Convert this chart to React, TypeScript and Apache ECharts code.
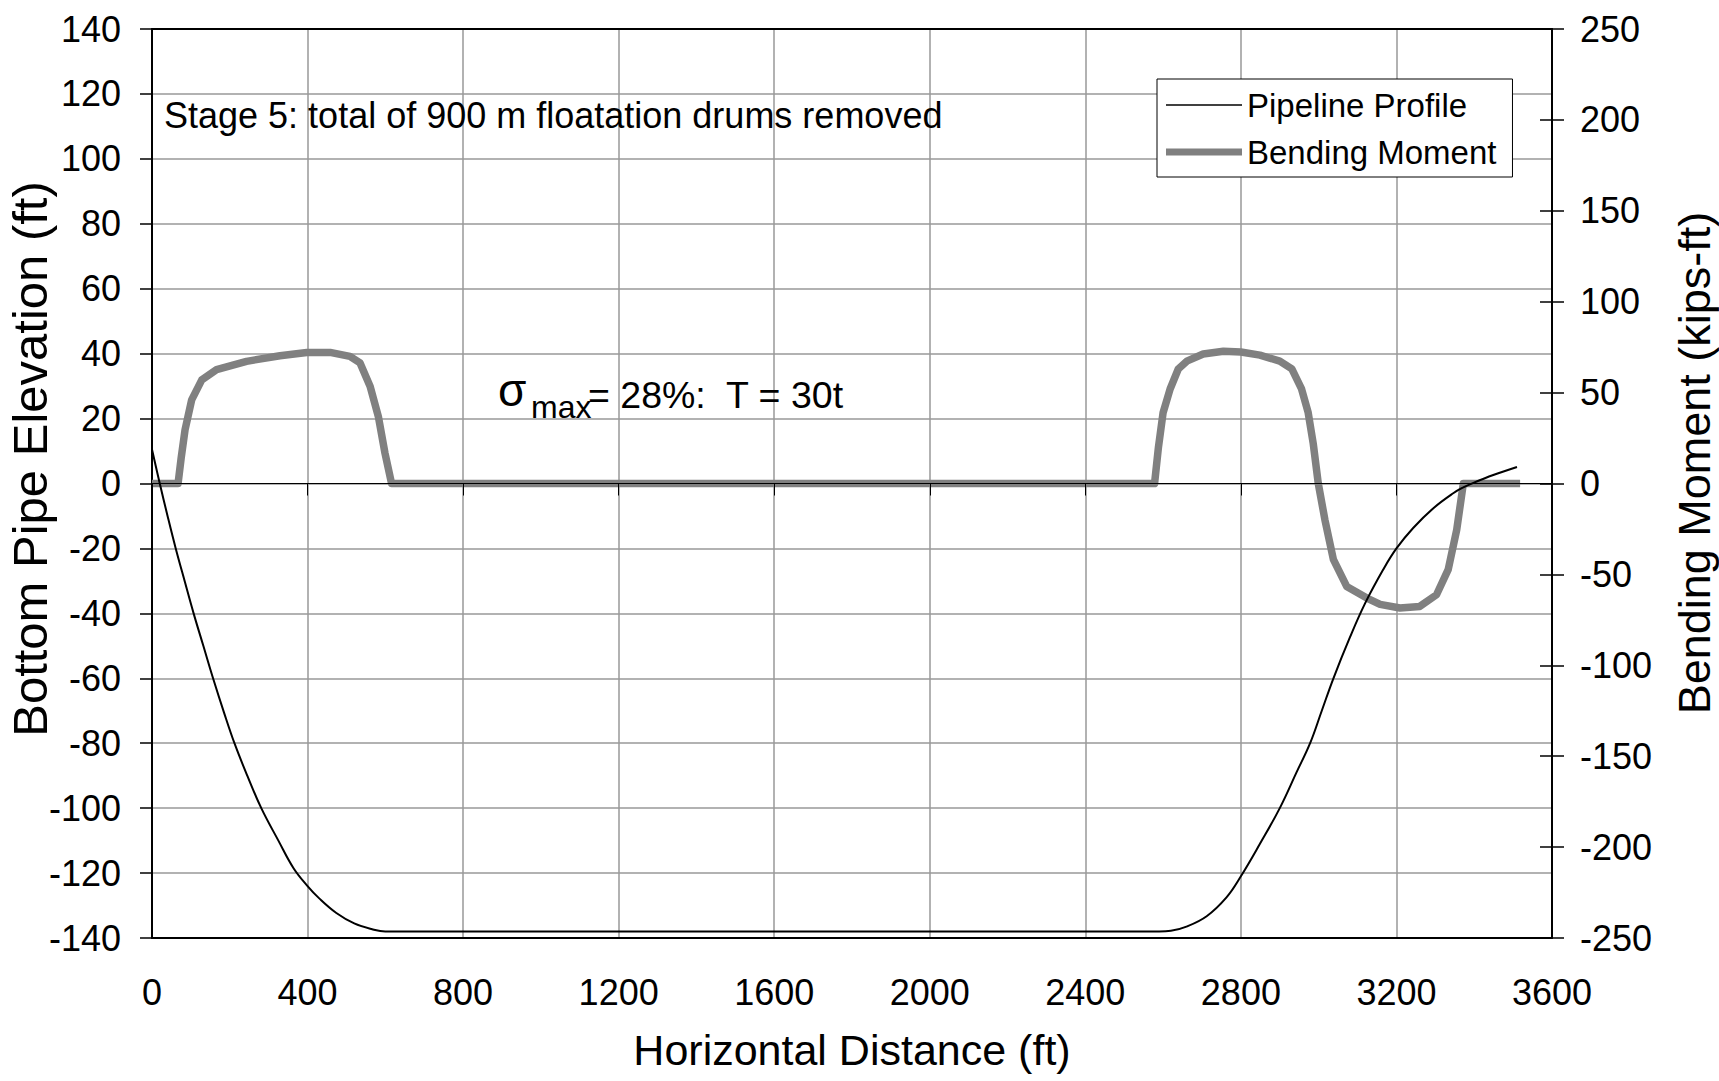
import React, { useEffect, useRef } from "react";
import * as echarts from "echarts";

const FONT = "'Liberation Sans', Arial, sans-serif";

const xTicks = { min: 0, max: 3600, interval: 400 };
const elevTicks = { min: -140, max: 140, interval: 20 };
const momentTicks = { min: -250, max: 250, interval: 50 };

const profileX = [0, 20, 40, 61, 85, 107, 132, 157, 185, 212, 245, 281, 325, 364, 400, 430, 474, 520, 566, 600, 1000, 1600, 2200, 2590, 2620, 2660, 2712, 2763, 2800, 2849, 2900, 2943, 2978, 3008, 3038, 3080, 3119, 3166, 3200, 3243, 3295, 3346, 3372, 3398, 3449, 3510];
const profileY = [10.5, 0, -10, -20, -30.5, -40, -50, -60, -70.5, -80, -90, -100, -110, -118.5, -124, -127.8, -132.3, -135.5, -137.3, -138, -138, -138, -138, -138, -137.8, -136.5, -133.3, -127.5, -121, -111, -100, -89, -80, -70, -60, -47.5, -37, -26.5, -20, -13.7, -7.6, -3, -1.2, 0.2, 2.6, 5.1];

const momentX = [0, 67, 75, 85, 102, 128, 166, 243, 329, 398, 458, 509, 535, 561, 582, 599, 616, 2578, 2588, 2600, 2618, 2639, 2661, 2703, 2755, 2800, 2849, 2900, 2931, 2956, 2973, 2986, 2999, 3016, 3038, 3072, 3124, 3158, 3209, 3260, 3303, 3333, 3355, 3372, 3518];
const momentY = [0, 0, 14, 29.6, 46, 57, 62.6, 67.2, 70.3, 72.1, 72.1, 69.9, 66.3, 53.4, 36.9, 16.8, 0, 0, 20, 39, 52, 63, 67.3, 71.2, 72.7, 72.3, 70.6, 67.3, 63, 52, 39, 22, 0, -19.9, -41.9, -56.6, -63, -66.5, -68.5, -67.6, -61.2, -47.4, -25.4, 0, 0];

const profileName = "Pipeline Profile";
const momentName = "Bending Moment";

const xTitle = "Horizontal Distance (ft)";
const leftTitle = "Bottom Pipe Elevation (ft)";
const rightTitle = "Bending Moment (kips-ft)";
const stageText = "Stage 5: total of 900 m floatation drums removed";
const sigmaMain = "σ";
const sigmaSub = "max";
const sigmaRest = "= 28%:  T = 30t";

export default function App() {
  const ref = useRef<HTMLDivElement>(null);

  useEffect(() => {
    if (!ref.current) return;
    const chart = echarts.init(ref.current, undefined, { renderer: "svg" });

    const profileData = profileX.map((x, i) => [x, profileY[i]]);
    const momentData = momentX.map((x, i) => [x, momentY[i]]);

    const labelStyle = { color: "#000", fontSize: 36, fontFamily: FONT };
    const blackLine = { show: true, onZero: false, lineStyle: { color: "#000", width: 2 } };
    const plain = (v: number) => String(v);

    chart.setOption({
      animation: false,
      backgroundColor: "#fff",
      grid: { left: 152, right: 167, top: 29, bottom: 143, containLabel: false, outerBoundsMode: "none" },
      legend: {
        orient: "vertical",
        left: 1157,
        top: 79,
        backgroundColor: "#fff",
        borderColor: "#000",
        borderWidth: 1,
        padding: [8, 16, 7, 9],
        itemWidth: 76,
        itemHeight: 14,
        itemGap: 11,
        selectedMode: false,
        symbolKeepAspect: true,
        textStyle: { color: "#000", fontSize: 33, lineHeight: 36, fontFamily: FONT },
        data: [
          { name: profileName, icon: "path://M0,0H76V1.6H0Z", itemStyle: { color: "#000" } },
          { name: momentName, icon: "path://M0,0H80V7.5H0Z", itemStyle: { color: "#808080" } },
        ],
      },
      xAxis: [
        {
          type: "value",
          position: "bottom",
          ...xTicks,
          axisLine: blackLine,
          axisTick: { show: false },
          axisLabel: { ...labelStyle, margin: 36, showMinLabel: true, showMaxLabel: true, formatter: plain },
          splitLine: { show: true, showMinLine: false, showMaxLine: false, lineStyle: { color: "#999", width: 1.5 } },
          name: xTitle,
          nameLocation: "middle",
          nameGap: 90,
          nameTextStyle: { color: "#000", fontSize: 43, fontFamily: FONT },
        },
        {
          type: "value",
          position: "top",
          ...xTicks,
          axisLine: blackLine,
          axisTick: { show: false },
          axisLabel: { show: false },
          splitLine: { show: false },
        },
        {
          type: "value",
          position: "bottom",
          ...xTicks,
          z: 10,
          axisLine: { show: true, onZero: true, onZeroAxisIndex: 0, lineStyle: { color: "#000", width: 1 } },
          axisTick: { show: true, inside: false, length: 12, lineStyle: { color: "#000", width: 1 } },
          axisLabel: { show: false },
          splitLine: { show: false },
        },
      ],
      yAxis: [
        {
          type: "value",
          position: "left",
          ...elevTicks,
          axisLine: blackLine,
          axisTick: { show: true, inside: false, length: 12, lineStyle: { color: "#000", width: 1.5 } },
          axisLabel: { ...labelStyle, margin: 31, formatter: plain },
          splitLine: { show: true, showMinLine: false, showMaxLine: false, lineStyle: { color: "#999", width: 1.5 } },
        },
        {
          type: "value",
          position: "right",
          ...momentTicks,
          axisLine: blackLine,
          axisTick: { show: true, inside: false, length: 12, lineStyle: { color: "#000", width: 1.5 } },
          axisLabel: { ...labelStyle, margin: 28, formatter: plain },
          splitLine: { show: false },
          name: rightTitle,
          nameLocation: "middle",
          nameGap: 120,
          nameTextStyle: { color: "#000", fontSize: 45, fontFamily: FONT, padding: [0, 0, 0, 41] },
        },
        {
          type: "value",
          position: "right",
          ...momentTicks,
          axisLine: { show: false, onZero: false },
          axisTick: { show: true, inside: true, length: 12, lineStyle: { color: "#000", width: 1.5 } },
          axisLabel: { show: false },
          splitLine: { show: false },
        },
      ],
      series: [
        {
          name: momentName,
          type: "line",
          xAxisIndex: 0,
          yAxisIndex: 1,
          data: momentData,
          symbol: "none",
          smooth: false,
          lineStyle: { color: "#808080", width: 7.5, join: "round" },
          itemStyle: { color: "#808080" },
          z: 3,
        },
        {
          name: profileName,
          type: "line",
          xAxisIndex: 0,
          yAxisIndex: 0,
          data: profileData,
          symbol: "none",
          smooth: 0.4,
          lineStyle: { color: "#000", width: 2 },
          itemStyle: { color: "#000" },
          z: 4,
        },
      ],
      graphic: [
        {
          type: "text",
          x: 30,
          y: 459,
          rotation: Math.PI / 2,
          z: 20,
          style: { text: leftTitle, font: `49px ${FONT}`, fill: "#000", align: "center", verticalAlign: "middle" },
        },
        {
          type: "text",
          x: 164,
          y: 115,
          z: 20,
          style: { text: stageText, font: `36px ${FONT}`, fill: "#000", align: "left", verticalAlign: "middle" },
        },
        {
          type: "text",
          x: 498,
          y: 390,
          z: 20,
          style: { text: sigmaMain, font: `46px ${FONT}`, fill: "#000", align: "left", verticalAlign: "middle" },
        },
        {
          type: "text",
          x: 531,
          y: 407,
          z: 20,
          style: { text: sigmaSub, font: `32px ${FONT}`, fill: "#000", align: "left", verticalAlign: "middle" },
        },
        {
          type: "text",
          x: 588,
          y: 395,
          z: 20,
          style: { text: sigmaRest, font: `37.5px ${FONT}`, fill: "#000", align: "left", verticalAlign: "middle" },
        },
      ],
    });

    return () => chart.dispose();
  }, []);

  return (
    <div
      ref={ref}
      style={{ position: "fixed", left: 0, top: 0, width: 1719, height: 1081, background: "#fff" }}
    />
  );
}
